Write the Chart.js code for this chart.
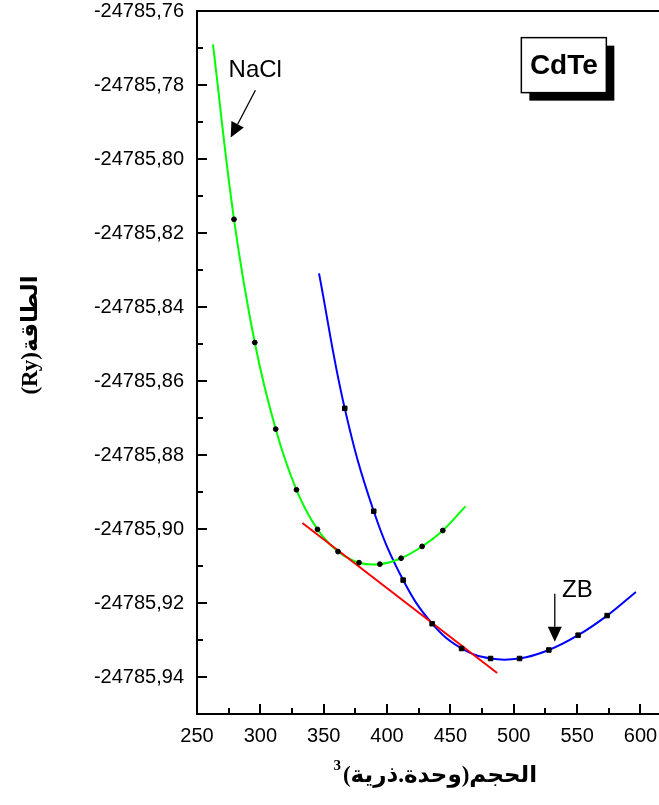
<!DOCTYPE html>
<html>
<head>
<meta charset="utf-8">
<script src="https://cdn.jsdelivr.net/npm/chart.js@4.4.0/dist/chart.umd.min.js"></script>
<style>
  html, body { margin: 0; padding: 0; background: #fff; }
  #wrap { width: 659px; height: 805px; }
</style>
</head>
<body>
<div id="wrap"><canvas id="evCurve"></canvas></div>
<script>
// NaCl (rock-salt) phase: volume (a.u.^3) vs total energy (Ry)
const naclVolume = [279.2, 295.6, 312.1, 328.5, 345.1, 361.3, 377.9, 394.3, 411.1, 427.7, 444.0];
const naclEnergy = [-24785.8163, -24785.8496, -24785.8730, -24785.8894, -24785.9001, -24785.9061,
    -24785.9091, -24785.9095, -24785.9079, -24785.9047, -24785.9004];
// ends of the fitted NaCl curve
const naclFitStart = [262.6, -24785.7690];
const naclFitEnd = [461.9, -24785.8939];

// zinc-blende phase
const zbVolume = [366.6, 389.5, 412.7, 435.6, 458.8, 481.7, 504.6, 527.7, 550.8, 573.7];
const zbEnergy = [-24785.8674, -24785.8952, -24785.9138, -24785.9256, -24785.9323, -24785.9350,
    -24785.9350, -24785.9327, -24785.9287, -24785.9234];
const zbFitStart = [346.3, -24785.8309];
const zbFitEnd = [596.4, -24785.9170];

// common tangent between the two phases
const tangentVolume = [333.2, 486.9];
const tangentEnergy = [-24785.8984, -24785.9389];

const xTickLabels = [250, 300, 350, 400, 450, 500, 550, 600];

const toPoints = (xs, ys) => xs.map((v, i) => ({ x: v, y: ys[i] }));
const fitLine = (start, xs, ys, end) =>
    [{ x: start[0], y: start[1] }, ...toPoints(xs, ys), { x: end[0], y: end[1] }];

const labelFont = { family: "'Liberation Sans', Arial, sans-serif", size: 20 };
const titleFont = "bold 23px 'Liberation Serif', 'DejaVu Sans', serif";

// arrows, phase labels and the compound box, anchored in data units
const notes = {
    nacl: { text: 'NaCl', at: [296.0, -24785.7760], from: [296.1, -24785.7814], to: [276.6, -24785.7942] },
    zb: { text: 'ZB', at: [550.2, -24785.9167], from: [532.4, -24785.9175], to: [532.4, -24785.9305] },
    box: { text: 'CdTe', at: [506.0, -24785.7672], w: 85, h: 55, shadow: 8 }
};

function arrow(ctx, x0, y0, x1, y1) {
    const ang = Math.atan2(y1 - y0, x1 - x0);
    const len = 15, half = 7;
    const bx = x1 - len * Math.cos(ang), by = y1 - len * Math.sin(ang);
    ctx.beginPath();
    ctx.moveTo(x0, y0);
    ctx.lineTo(bx, by);
    ctx.stroke();
    ctx.beginPath();
    ctx.moveTo(x1, y1);
    ctx.lineTo(bx + half * Math.sin(ang), by - half * Math.cos(ang));
    ctx.lineTo(bx - half * Math.sin(ang), by + half * Math.cos(ang));
    ctx.closePath();
    ctx.fill();
}

const frameAndNotes = {
    id: 'frameAndNotes',
    afterDraw(chart) {
        const { ctx, chartArea: a, scales: { x, y } } = chart;
        const px = v => x.getPixelForValue(v);
        const py = v => y.getPixelForValue(v);
        ctx.save();
        ctx.strokeStyle = '#000';
        ctx.fillStyle = '#000';

        // top edge, and both horizontal edges run on to the canvas border
        ctx.lineWidth = 2;
        ctx.beginPath();
        ctx.moveTo(a.left, a.top);
        ctx.lineTo(chart.width, a.top);
        ctx.moveTo(a.right - 1, a.bottom);
        ctx.lineTo(chart.width, a.bottom);
        ctx.stroke();

        // tick marks pointing into the plot
        ctx.lineWidth = 2;
        x.ticks.forEach(t => {
            const xx = Math.round(px(t.value));
            const len = xTickLabels.includes(Math.round(t.value)) ? 10 : 6;
            ctx.beginPath();
            ctx.moveTo(xx, a.bottom);
            ctx.lineTo(xx, a.bottom - len);
            ctx.stroke();
        });
        y.ticks.forEach(t => {
            const yy = Math.round(py(t.value));
            const len = Math.round(t.value * 100) % 2 === 0 ? 10 : 6;
            ctx.beginPath();
            ctx.moveTo(a.left, yy);
            ctx.lineTo(a.left + len, yy);
            ctx.stroke();
        });

        // arrows and labels
        ctx.lineWidth = 1.3;
        ctx.font = "24px 'Liberation Sans', Arial, sans-serif";
        ctx.textAlign = 'center';
        ctx.textBaseline = 'middle';
        [notes.nacl, notes.zb].forEach(n => {
            ctx.fillText(n.text, px(n.at[0]), py(n.at[1]));
            arrow(ctx, px(n.from[0]), py(n.from[1]), px(n.to[0]), py(n.to[1]));
        });

        // compound label with drop shadow
        const b = notes.box;
        const bx = px(b.at[0]), by = py(b.at[1]);
        ctx.fillRect(bx + b.shadow, by + b.shadow, b.w, b.h);
        ctx.fillStyle = '#fff';
        ctx.fillRect(bx, by, b.w, b.h);
        ctx.lineWidth = 1.5;
        ctx.strokeRect(bx, by, b.w, b.h);
        ctx.fillStyle = '#000';
        ctx.font = "bold 28px 'Liberation Sans', Arial, sans-serif";
        ctx.fillText(b.text, bx + b.w / 2, by + b.h / 2 + 1);

        // axis titles (Arabic, right-to-left)
        ctx.direction = 'rtl';
        ctx.font = titleFont;
        const xt = 'الحجم(وحدة.ذرية)';
        const cx = 440, cy = a.bottom + 62;
        ctx.fillText(xt, cx, cy);
        const left = cx - ctx.measureText(xt).width / 2;
        ctx.direction = 'ltr';
        ctx.font = "bold 15px 'Liberation Serif', serif";
        ctx.textAlign = 'right';
        ctx.fillText('3', left - 2, cy - 10);

        ctx.direction = 'rtl';
        ctx.textAlign = 'center';
        ctx.font = titleFont;
        ctx.save();
        ctx.translate(31, 335);
        ctx.rotate(-Math.PI / 2);
        ctx.fillText('الطاقة(Ry)', 0, 0);
        ctx.restore();

        ctx.restore();
    }
};

new Chart(document.getElementById('evCurve'), {
    type: 'scatter',
    data: {
        datasets: [
            {
                label: 'NaCl',
                data: toPoints(naclVolume, naclEnergy),
                pointStyle: 'circle',
                pointRadius: 2.4,
                backgroundColor: '#000',
                borderColor: '#000',
                order: 0
            },
            {
                label: 'ZB',
                data: toPoints(zbVolume, zbEnergy),
                pointStyle: 'rect',
                pointRadius: 3.2,
                backgroundColor: '#000',
                borderColor: '#000',
                order: 0
            },
            {
                label: 'tangent',
                data: toPoints(tangentVolume, tangentEnergy),
                showLine: true,
                borderColor: '#ff0000',
                borderWidth: 2,
                pointRadius: 0,
                order: 1
            },
            {
                label: 'NaCl fit',
                data: fitLine(naclFitStart, naclVolume, naclEnergy, naclFitEnd),
                showLine: true,
                tension: 0.4,
                borderColor: '#00ff00',
                borderWidth: 2,
                pointRadius: 0,
                order: 2
            },
            {
                label: 'ZB fit',
                data: fitLine(zbFitStart, zbVolume, zbEnergy, zbFitEnd),
                showLine: true,
                tension: 0.4,
                borderColor: '#0000ff',
                borderWidth: 2,
                pointRadius: 0,
                order: 2
            }
        ]
    },
    options: {
        responsive: true,
        maintainAspectRatio: false,
        animation: false,
        layout: { padding: { top: 11, left: 0, right: 0, bottom: 0 } },
        plugins: {
            legend: { display: false },
            tooltip: { enabled: false }
        },
        scales: {
            x: {
                type: 'linear',
                min: 250,
                max: 610.7,
                afterFit: scale => {
                    scale.height = 91;
                    scale.paddingLeft = 0;
                    scale.paddingRight = 0;
                },
                grid: { display: false, drawTicks: false },
                border: { display: true, color: '#000', width: 2 },
                ticks: {
                    stepSize: 25,
                    includeBounds: false,
                    autoSkip: false,
                    maxRotation: 0,
                    padding: 10,
                    color: '#000',
                    font: labelFont,
                    callback: v => xTickLabels.includes(Math.round(v)) ? String(Math.round(v)) : ''
                }
            },
            y: {
                type: 'linear',
                min: -24785.95,
                max: -24785.76,
                afterFit: scale => {
                    scale.width = 197;
                    scale.paddingTop = 0;
                    scale.paddingBottom = 0;
                },
                grid: { display: false, drawTicks: false },
                border: { display: true, color: '#000', width: 2 },
                ticks: {
                    stepSize: 0.01,
                    autoSkip: false,
                    padding: 13,
                    color: '#000',
                    font: labelFont,
                    callback: v => Math.round(v * 100) % 2 === 0 ? v.toFixed(2).replace('.', ',') : ''
                }
            }
        }
    },
    plugins: [frameAndNotes]
});
</script>
</body>
</html>
